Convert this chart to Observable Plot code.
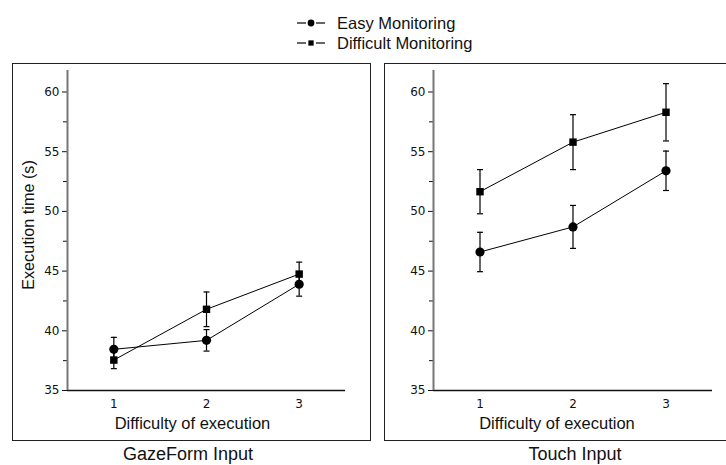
<!DOCTYPE html>
<html>
<head>
<meta charset="utf-8">
<script src="https://cdn.jsdelivr.net/npm/d3@7"></script>
<script src="https://cdn.jsdelivr.net/npm/@observablehq/plot@0.6"></script>
<style>
  html, body { margin: 0; padding: 0; background: #fff; }
  #root { position: relative; width: 726px; height: 465px; overflow: hidden; background: #fff;
          font-family: "Liberation Sans", Arial, sans-serif; color: #111; }
  .frame { position: absolute; border: 1.5px solid #222; box-sizing: border-box; pointer-events: none; }
  .lbl { position: absolute; white-space: nowrap; transform: translate(-50%, -50%); }
</style>
</head>
<body>
<div id="root"></div>
<script>
// ---- data ----
const difficulty = [1, 2, 3];
const seriesNames = ["Easy Monitoring", "Difficult Monitoring"];
const gazeEasy = [38.45, 39.2, 43.9];
const gazeEasyErr = [1.0, 0.9, 1.0];
const gazeDiff = [37.55, 41.8, 44.75];
const gazeDiffErr = [0.72, 1.45, 1.0];
const touchEasy = [46.6, 48.7, 53.4];
const touchEasyErr = [1.65, 1.8, 1.65];
const touchDiff = [51.65, 55.8, 58.3];
const touchDiffErr = [1.85, 2.3, 2.4];
const yTicks = [35, 40, 45, 50, 55, 60];
const yMinor = [37.5, 42.5, 47.5, 52.5, 57.5];
const panelTitles = ["GazeForm Input", "Touch Input"];
const xLabel = "Difficulty of execution";
const yLabel = "Execution time (s)";

function rows(easy, easyErr, diff, diffErr) {
  const out = [];
  difficulty.forEach((x, i) => out.push({series: seriesNames[0], x, y: easy[i], e: easyErr[i]}));
  difficulty.forEach((x, i) => out.push({series: seriesNames[1], x, y: diff[i], e: diffErr[i]}));
  return out;
}
const gazeData = rows(gazeEasy, gazeEasyErr, gazeDiff, gazeDiffErr);
const touchData = rows(touchEasy, touchEasyErr, touchDiff, touchDiffErr);

const cap = { draw(ctx) { ctx.moveTo(-3, 0); ctx.lineTo(3, 0); } };

function panel(data, width, marginLeft, marginRight) {
  return Plot.plot({
    width, height: 378,
    marginLeft, marginRight, marginTop: 7, marginBottom: 51,
    x: {domain: [0.5, 3.5]},
    y: {domain: [35, 61.8]},
    style: {fontFamily: "'DejaVu Sans', Verdana, sans-serif", fontSize: "12px", color: "#111", background: "transparent", overflow: "visible"},
    marks: [
      Plot.axisY({ticks: yTicks, tickSize: 5, tickPadding: 3, label: null}),
      Plot.axisY({ticks: yMinor, tickSize: 4, tickFormat: () => "", label: null}),
      Plot.axisX({ticks: difficulty, tickSize: 0, tickPadding: 9, tickFormat: d3.format("d"), label: null}),
      Plot.ruleY([35], {x1: 0.5, x2: 3.5, stroke: "#111", strokeWidth: 1.5}),
      Plot.ruleX([0.5], {y1: 35, y2: 61.8, stroke: "#777", strokeWidth: 2}),
      Plot.ruleX(data, {x: "x", y1: d => d.y - d.e, y2: d => d.y + d.e, stroke: "#000", strokeWidth: 1.2}),
      Plot.dot(data, {x: "x", y: d => d.y - d.e, symbol: cap, stroke: "#000", fill: "none", strokeWidth: 1.2}),
      Plot.dot(data, {x: "x", y: d => d.y + d.e, symbol: cap, stroke: "#000", fill: "none", strokeWidth: 1.2}),
      Plot.line(data, {x: "x", y: "y", z: "series", stroke: "#000", strokeWidth: 1}),
      Plot.dot(data.filter(d => d.series === seriesNames[0]), {x: "x", y: "y", symbol: "circle", fill: "#000", stroke: "none", r: 4.6}),
      Plot.dot(data.filter(d => d.series === seriesNames[1]), {x: "x", y: "y", symbol: "square", fill: "#000", stroke: "none", r: 4.2})
    ]
  });
}

const root = document.getElementById("root");
function place(el, left, top) { el.style.position = "absolute"; el.style.left = left + "px"; el.style.top = top + "px"; root.appendChild(el); return el; }
function label(text, x, y, size, rotate) {
  const d = document.createElement("div");
  d.className = "lbl";
  d.textContent = text;
  d.style.left = x + "px"; d.style.top = y + "px"; d.style.fontSize = size + "px";
  if (rotate) d.style.transform = "translate(-50%, -50%) rotate(-90deg)";
  root.appendChild(d);
}
function frame(left, top, w, h) {
  const f = document.createElement("div");
  f.className = "frame";
  f.style.left = left + "px"; f.style.top = top + "px"; f.style.width = w + "px"; f.style.height = h + "px";
  root.appendChild(f);
}

place(panel(gazeData, 359, 55, 26), 12, 63);
place(panel(touchData, 342, 49, 14), 384, 63);
frame(12, 63, 359, 378);
frame(384, 63, 360, 378);

label(xLabel, 192.5, 423, 16.5);
label(xLabel, 557, 423, 16.5);
label(yLabel, 28, 225, 16.2, true);
label(panelTitles[0], 188, 454, 18);
label(panelTitles[1], 575, 454, 18);

// legend
const ns = "http://www.w3.org/2000/svg";
seriesNames.forEach((name, i) => {
  const cy = 23 + i * 20;
  const svg = document.createElementNS(ns, "svg");
  svg.setAttribute("width", 30); svg.setAttribute("height", 12);
  svg.style.position = "absolute"; svg.style.left = "296px"; svg.style.top = (cy - 6) + "px";
  [[1, 10], [20, 29]].forEach(([a, b]) => {
    const ln = document.createElementNS(ns, "line");
    ln.setAttribute("x1", a); ln.setAttribute("x2", b); ln.setAttribute("y1", 6); ln.setAttribute("y2", 6);
    ln.setAttribute("stroke", "#000"); ln.setAttribute("stroke-width", 1.2);
    svg.appendChild(ln);
  });
  const sym = document.createElementNS(ns, "path");
  sym.setAttribute("transform", "translate(15,6)");
  sym.setAttribute("d", d3.symbol(i === 0 ? d3.symbolCircle : d3.symbolSquare, i === 0 ? 36 : 28)());
  sym.setAttribute("fill", "#000");
  svg.appendChild(sym);
  root.appendChild(svg);
  const t = document.createElement("div");
  t.textContent = name;
  t.style.position = "absolute"; t.style.left = "337px"; t.style.top = (cy - 10) + "px";
  t.style.fontSize = "16.5px"; t.style.lineHeight = "20px"; t.style.whiteSpace = "nowrap";
  root.appendChild(t);
});
</script>
</body>
</html>
